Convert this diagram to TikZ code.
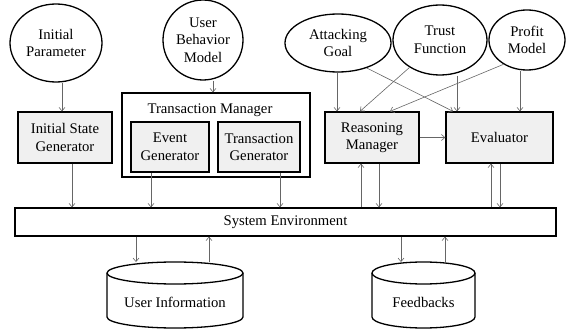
\documentclass[tikz,border=0pt]{standalone}
\usepackage{fontspec}
\setmainfont{Liberation Serif}
\usetikzlibrary{shapes.geometric,arrows.meta}
\newcommand\mycyl[2]{%
  \draw[cyl] ([shift={(-#2pt,29pt)}]#1.center) -- ([shift={(-#2pt,-15pt)}]#1.center)
    arc[start angle=180,end angle=360,x radius=#2pt,y radius=11pt]
    -- ([shift={(#2pt,29pt)}]#1.center)
    arc[start angle=0,end angle=180,x radius=#2pt,y radius=11pt] -- cycle;
  \draw[cyl] ([shift={(-#2pt,29pt)}]#1.center)
    arc[start angle=180,end angle=360,x radius=#2pt,y radius=11pt];}
\begin{document}
\begin{tikzpicture}[x=1pt,y=-1pt,
  every node/.style={font=\fontsize{14.7}{17.5}\selectfont, align=center},
  oval/.style={ellipse, draw, line width=1.3pt, inner sep=0pt},
  gbox/.style={draw, line width=1.3pt, fill=black!6, inner sep=0pt},
  wbox/.style={draw, line width=1.3pt, fill=white, inner sep=0pt},
  arr/.style={draw=black!60, line width=0.6pt, -{Straight Barb[length=3.5pt,width=6pt]}},
  cyl/.style={draw, line width=1.3pt}]
\useasboundingbox (0,0) rectangle (566,329);

% ellipses
\node[oval, minimum width=92pt, minimum height=78pt] (ip) at (56,43) {Initial\\Parameter};
\node[oval, minimum width=80pt, minimum height=80pt] (ubm) at (203,40) {User\\Behavior\\Model};
\node[oval, minimum width=106pt, minimum height=58pt] (ag) at (338,43) {Attacking\\Goal};
\node[oval, minimum width=94pt, minimum height=70pt] (tf) at (440,40) {Trust\\Function};
\node[oval, minimum width=76pt, minimum height=60pt] (pm) at (527,40) {Profit\\Model};

% boxes
\node[gbox, minimum width=94pt, minimum height=51pt] (isg) at (65,137.5) {Initial State\\Generator};
\node[wbox, minimum width=188pt, minimum height=84pt] (tm) at (216,135) {};
\node (tml) at (210,110) {Transaction Manager};
\node[gbox, minimum width=78pt, minimum height=50pt] (eg) at (170,147) {Event\\Generator};
\node[gbox, minimum width=82pt, minimum height=50pt] (tg) at (259,147) {Transaction\\Generator};
\node[gbox, minimum width=94pt, minimum height=51pt] (rm) at (372,137.5) {Reasoning\\Manager};
\node[gbox, minimum width=107pt, minimum height=51pt] (ev) at (499.5,137.5) {Evaluator};
\node[wbox, minimum width=541pt, minimum height=28pt] (se) at (285.5,222) {System Environment};

% cylinders
\node (ui) at (175,302) {User Information};
\mycyl{ui}{68}
\coordinate (uitop) at ([yshift=40pt]ui.center);
\node (fb) at (423.5,302) {Feedbacks};
\mycyl{fb}{51.5}
\coordinate (fbtop) at ([yshift=40pt]fb.center);

% arrows
\draw[arr] ([xshift=6pt]ip.south) -- ([xshift=-3pt]isg.north);
\draw[arr] ([xshift=10pt]ubm.south) -- ([xshift=-3pt]tm.north);
\draw[arr] ([xshift=-1pt]ag.south) -- ([xshift=-35pt]rm.north);
\draw[arr] (ag.-41) -- ([xshift=-46.5pt]ev.north);
\draw[arr] (tf.-138) -- ([xshift=-12pt]rm.north);
\draw[arr] ([xshift=17pt]tf.south) -- ([xshift=-42.5pt]ev.north);
\draw[arr] (pm.-134) -- ([xshift=18pt]rm.north);
\draw[arr] ([xshift=-7pt]pm.south) -- ([xshift=20.5pt]ev.north);
\draw[arr] (rm.east) -- (ev.west);

\draw[arr] ([xshift=7pt]isg.south) -- ([xshift=-213.5pt]se.north);
\draw[arr] ([xshift=-19pt]eg.south) -- ([xshift=-134.5pt]se.north);
\draw[arr] ([xshift=21pt]tg.south) -- ([xshift=-5.5pt]se.north);
\draw[arr] ([xshift=75.5pt]se.north) -- ([xshift=-11pt]rm.south);
\draw[arr] ([xshift=7pt]rm.south) -- ([xshift=93.5pt]se.north);
\draw[arr] ([xshift=205.5pt]se.north) -- ([xshift=-8.5pt]ev.south);
\draw[arr] ([xshift=0.5pt]ev.south) -- ([xshift=214.5pt]se.north);

\draw[arr] ([xshift=-149.5pt]se.south) -- ([xshift=-39pt]uitop);
\draw[arr] ([xshift=34pt]uitop) -- ([xshift=-76.5pt]se.south);
\draw[arr] ([xshift=115.5pt]se.south) -- ([xshift=-22.5pt]fbtop);
\draw[arr] ([xshift=21.5pt]fbtop) -- ([xshift=159.5pt]se.south);
\end{tikzpicture}
\end{document}
